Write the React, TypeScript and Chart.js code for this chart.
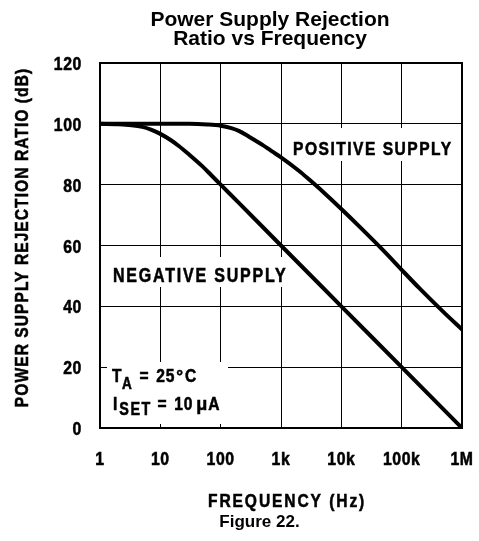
import React, { useEffect, useRef } from "react";
import { Chart, registerables } from "chart.js";

Chart.register(...registerables);

// ---- data ----
const xTickValues = [1, 10, 100, 1000, 10000, 100000, 1000000];
const xTickLabels = ["1", "10", "100", "1k", "10k", "100k", "1M"];
const yTickValues = [0, 20, 40, 60, 80, 100, 120];

const negFreq = [1, 2, 3, 5, 7, 10, 15, 20, 30, 50, 70, 100, 200, 1000, 10000, 100000, 1000000];
const negDb = [100, 99.9, 99.6, 99.0, 98.1, 96.7, 94.6, 92.8, 89.9, 86.0, 83.1, 80, 74, 60, 40, 20, 0];

const posFreq = [1, 10, 30, 60, 100, 150, 200, 300, 500, 700, 1000, 2000, 3000, 5000, 10000, 20000, 50000, 100000, 200000, 500000, 1000000];
const posDb = [100, 100, 100, 99.8, 99.4, 98.6, 97.7, 95.7, 93.0, 91.0, 89.0, 84.5, 81.5, 77.6, 72.0, 66.2, 58.3, 52.0, 45.8, 38.0, 32.4];

const titleLines = ["Power Supply Rejection", "Ratio vs Frequency"];
const xAxisTitle = "FREQUENCY (Hz)";
const yAxisTitle = "POWER SUPPLY REJECTION RATIO (dB)";
const caption = "Figure 22.";
const posLabel = "POSITIVE SUPPLY";
const negLabel = "NEGATIVE SUPPLY";

const ARIAL = '"Liberation Sans", Arial, Helvetica, sans-serif';

// Draw text in a condensed bold face (Liberation Sans Bold squeezed horizontally).
// Returns the advance width in canvas pixels.
function narrow(
  ctx: CanvasRenderingContext2D,
  s: string,
  x: number,
  y: number,
  size: number,
  spacing = 0,
  align: CanvasTextAlign = "left",
  sx = 0.82
): number {
  ctx.save();
  ctx.translate(x, y);
  ctx.scale(sx, 1);
  ctx.font = `bold ${size}px ${ARIAL}`;
  (ctx as any).letterSpacing = spacing / sx + "px";
  ctx.textAlign = align;
  ctx.textBaseline = "alphabetic";
  ctx.fillText(s, 0, 0);
  ctx.strokeStyle = "#000000";
  ctx.lineWidth = 0.55;
  ctx.strokeText(s, 0, 0);
  const w = ctx.measureText(s).width * sx;
  ctx.restore();
  return w;
}

function plain(
  ctx: CanvasRenderingContext2D,
  s: string,
  x: number,
  y: number,
  font: string,
  align: CanvasTextAlign = "left"
) {
  ctx.font = font;
  (ctx as any).letterSpacing = "0px";
  ctx.textAlign = align;
  ctx.textBaseline = "alphabetic";
  ctx.fillText(s, x, y);
}

const decorPlugin = {
  id: "decor",
  beforeDatasetsDraw(chart: any) {
    const ctx: CanvasRenderingContext2D = chart.ctx;
    ctx.save();
    // white backgrounds behind the in-plot labels
    ctx.fillStyle = "#ffffff";
    ctx.fillRect(288, 128, 171, 33);
    ctx.fillRect(108, 257, 182, 30);
    ctx.fillRect(107, 362, 121, 62);

    ctx.fillStyle = "#000000";
    narrow(ctx, posLabel, 293, 155, 19, 1.5);
    narrow(ctx, negLabel, 113, 282, 19.5, 1.8);

    // T_A = 25°C
    let x = 112;
    x += narrow(ctx, "T", x, 382, 19, 0.5);
    x += narrow(ctx, "A", x, 388.5, 16.5, 1);
    x += narrow(ctx, " =", x + 1, 382, 19, 1.5);
    x += narrow(ctx, " 25", x + 2, 382, 19, 0.8);
    x += narrow(ctx, "\u00B0", x + 3, 382, 17, 0, "left", 1.0);
    narrow(ctx, "C", x + 5, 382, 19, 0);

    // I_SET = 10 µA
    x = 113;
    x += narrow(ctx, "I", x, 409.5, 19, 1);
    x += narrow(ctx, "SET", x + 1, 414.5, 17.5, 1.5);
    x += narrow(ctx, " =", x + 1, 409.5, 19, 1.5);
    x += narrow(ctx, " 10", x + 2, 409.5, 19, 0.8);
    x += narrow(ctx, "\u03BC", x + 5, 409.5, 19, 0, "left", 0.95);
    narrow(ctx, "A", x + 6, 409.5, 19, 0);
    ctx.restore();
  },
  afterDraw(chart: any) {
    const ctx: CanvasRenderingContext2D = chart.ctx;
    const a = chart.chartArea;
    const xs = chart.scales.x;
    const ys = chart.scales.y;
    ctx.save();
    ctx.strokeStyle = "#000000";
    ctx.lineWidth = 2;
    ctx.strokeRect(a.left, a.top, a.right - a.left, a.bottom - a.top);

    ctx.fillStyle = "#000000";
    // tick labels, placed through the chart's own scales
    xTickValues.forEach((v, i) => {
      narrow(ctx, xTickLabels[i], xs.getPixelForValue(v), a.bottom + 37, 18.6, 0.6, "center", 0.85);
    });
    yTickValues.forEach((v) => {
      narrow(ctx, String(v), a.left - 18, ys.getPixelForValue(v) + 7, 18.6, 0.6, "right", 0.85);
    });

    const tf = `bold 21px ${ARIAL}`;
    plain(ctx, titleLines[0], 270, 25.5, tf, "center");
    plain(ctx, titleLines[1], 270, 45, tf, "center");

    narrow(ctx, xAxisTitle, 208, 507, 19, 1.9);
    plain(ctx, caption, 259.5, 527, `bold 17px ${ARIAL}`, "center");

    ctx.translate(28, 237.5);
    ctx.rotate(-Math.PI / 2);
    narrow(ctx, yAxisTitle, 0, 0, 19, 1.05, "center");
    ctx.restore();
  },
};

export default function App() {
  const ref = useRef<HTMLCanvasElement>(null);

  useEffect(() => {
    document.body.style.margin = "0";
    const canvas = ref.current;
    if (!canvas) return;
    const toPts = (xs: number[], ys: number[]) => xs.map((v, i) => ({ x: v, y: ys[i] }));
    const chart = new Chart(canvas, {
      type: "line",
      data: {
        datasets: [
          {
            label: "Negative supply",
            data: toPts(negFreq, negDb),
            borderColor: "#000000",
            borderWidth: 4,
            pointRadius: 0,
            cubicInterpolationMode: "monotone",
            fill: false,
          },
          {
            label: "Positive supply",
            data: toPts(posFreq, posDb),
            borderColor: "#000000",
            borderWidth: 4,
            pointRadius: 0,
            cubicInterpolationMode: "monotone",
            fill: false,
          },
        ],
      },
      options: {
        responsive: false,
        animation: false,
        events: [],
        layout: { padding: { top: 63, right: 17, left: 0, bottom: 0 } },
        plugins: {
          legend: { display: false },
          title: { display: false },
          tooltip: { enabled: false },
        },
        scales: {
          x: {
            type: "logarithmic",
            min: 1,
            max: 1000000,
            afterBuildTicks: (s: any) => {
              s.ticks = xTickValues.map((v) => ({ value: v }));
            },
            afterFit: (s: any) => {
              s.height = 113;
              s.paddingLeft = 0;
              s.paddingRight = 0;
            },
            ticks: { display: false, autoSkip: false },
            grid: { color: "#000000", lineWidth: 1, drawTicks: false },
            border: { display: false },
          },
          y: {
            type: "linear",
            min: 0,
            max: 120,
            afterBuildTicks: (s: any) => {
              s.ticks = yTickValues.map((v) => ({ value: v }));
            },
            afterFit: (s: any) => {
              s.width = 100;
              s.paddingTop = 0;
              s.paddingBottom = 0;
            },
            ticks: { display: false },
            grid: { color: "#000000", lineWidth: 1, drawTicks: false },
            border: { display: false },
          },
        },
      },
      plugins: [decorPlugin],
    } as any);
    return () => chart.destroy();
  }, []);

  return (
    <div style={{ position: "absolute", left: 0, top: 0, width: 479, height: 541, background: "#fff" }}>
      <canvas ref={ref} width={479} height={541} style={{ display: "block" }} />
    </div>
  );
}
